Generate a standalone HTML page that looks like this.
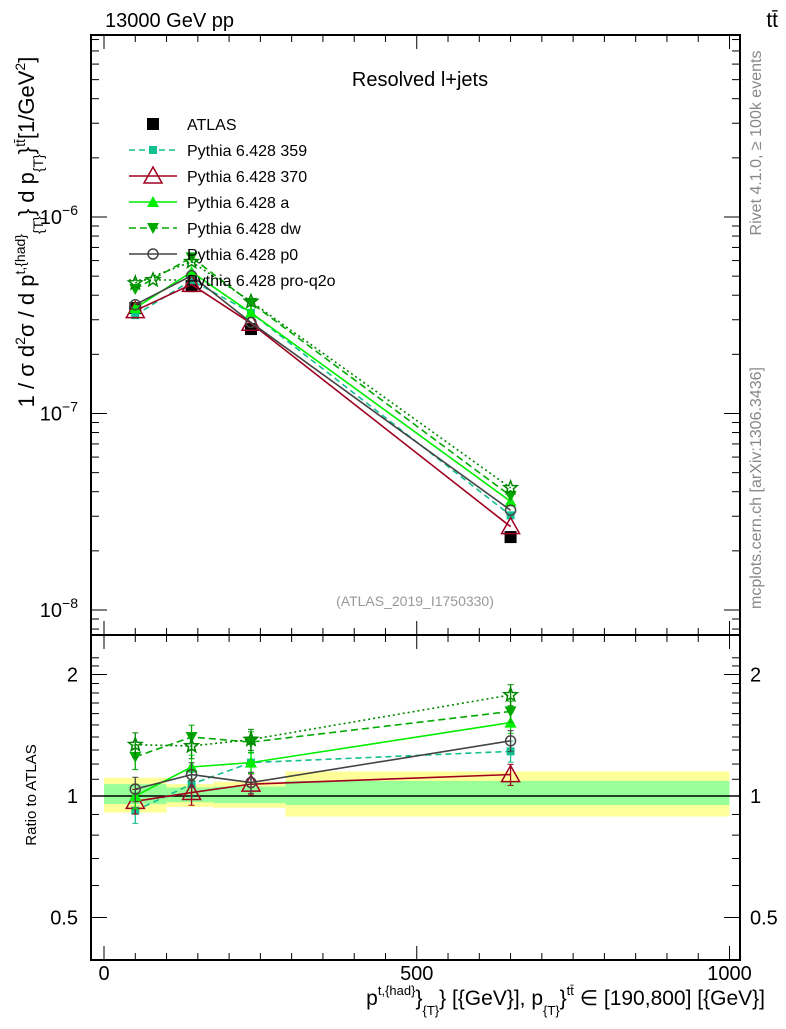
<!DOCTYPE html>
<html><head><meta charset="utf-8"><style>
body{margin:0;background:#fff}
svg text{font-family:"Liberation Sans",sans-serif}
</style></head><body>
<svg id="c" width="786" height="1024" xmlns="http://www.w3.org/2000/svg">
<text x="105" y="27" font-size="20">13000 GeV pp</text>
<text x="778" y="27" font-size="21" text-anchor="end">tt̄</text>
<text x="420" y="86" font-size="20" text-anchor="middle">Resolved l+jets</text>
<text x="415" y="606" font-size="14" fill="#999" text-anchor="middle">(ATLAS_2019_I1750330)</text>
<text transform="translate(761,143) rotate(-90)" font-size="16" fill="#888" text-anchor="middle">Rivet 4.1.0, ≥ 100k events</text>
<text transform="translate(761,488) rotate(-90)" font-size="16" fill="#888" text-anchor="middle">mcplots.cern.ch [arXiv:1306.3436]</text>
<text transform="translate(34,232) rotate(-90)" font-size="22" text-anchor="middle">1 / σ d<tspan dy="-9" font-size="14">2</tspan><tspan dy="9">σ / d p</tspan><tspan dy="-9" font-size="14">t,{had}</tspan><tspan dy="18" font-size="14">{T}</tspan><tspan dy="-9">} d p</tspan><tspan dy="9" font-size="14">{T}</tspan><tspan dy="-9">}</tspan><tspan dy="-9" font-size="14">tt̄</tspan><tspan dy="9">[1/GeV</tspan><tspan dy="-9" font-size="14">2</tspan><tspan dy="9">]</tspan></text>
<text transform="translate(36,795) rotate(-90)" font-size="15" text-anchor="middle">Ratio to ATLAS</text>
<text x="765" y="1005" font-size="21" text-anchor="end">p<tspan dy="-10" font-size="13">t,{had}</tspan><tspan dy="10">}</tspan><tspan dy="10" font-size="13">{T}</tspan><tspan dy="-10">} [{GeV}], p</tspan><tspan dy="10" font-size="13">{T}</tspan><tspan dy="-10">}</tspan><tspan dy="-10" font-size="13">tt̄</tspan><tspan dy="10"> ∈ [190,800] [{GeV}]</tspan></text>
<g id="g"></g>
</svg>
<script>
const xVals=[50,140,235,650];
const binEdges=[0,100,175,290,1000];
const atlas=[3.44e-7,4.45e-7,2.69e-7,2.35e-8];
const bandTotLo=[0.91,0.94,0.935,0.89];
const bandTotHi=[1.11,1.07,1.085,1.15];
const bandStatLo=[0.955,0.965,0.96,0.95];
const bandStatHi=[1.07,1.05,1.055,1.09];
const r359=[0.92,1.07,1.21,1.29];
const r370=[0.97,1.02,1.07,1.13];
const rA=[1.0,1.18,1.21,1.52];
const rDW=[1.25,1.40,1.36,1.62];
const rP0=[1.04,1.13,1.08,1.37];
const rQ2O=[1.34,1.33,1.38,1.78];
const rErr=[0.07,0.07,0.06,0.06];
const xTicks=[0,500,1000];
const yTicks=[1e-8,1e-7,1e-6];
const yTickLabels=["10","10","10"];
const yTickExp=["−8","−7","−6"];
const rTicks=[0.5,1,2];

const NS="http://www.w3.org/2000/svg";
const g=document.getElementById('g');
const L=91,R=740,T=35,M=635,B=960;
const X=v=>104+v*0.6255;
const Y=v=>217-(Math.log10(v)+6)*196.5;
const RY=v=>796-Math.log2(v)*121.5;
function el(tag,at,parent){const e=document.createElementNS(NS,tag);for(const k in at)e.setAttribute(k,at[k]);(parent||g).appendChild(e);return e;}

for(let i=0;i<4;i++){
 const b1=el('rect',{x:X(binEdges[i]),y:RY(bandTotHi[i]),width:X(binEdges[i+1])-X(binEdges[i]),height:RY(bandTotLo[i])-RY(bandTotHi[i]),fill:'#ffff99'});
 
 
 const b2=el('rect',{x:X(binEdges[i]),y:RY(bandStatHi[i]),width:X(binEdges[i+1])-X(binEdges[i]),height:RY(bandStatLo[i])-RY(bandStatHi[i]),fill:'#99ff99'});
 
 
}
el('line',{x1:L,x2:R,y1:RY(1),y2:RY(1),stroke:'#000','stroke-width':1.5});

const f1=el('rect',{x:L,y:T,width:R-L,height:M-T,fill:'none',stroke:'#000','stroke-width':2});


const f2=el('rect',{x:L,y:M,width:R-L,height:B-M,fill:'none',stroke:'#000','stroke-width':2});



for(let v=0;v<=1000;v+=50){const big=v%500==0;const s=big?14:7;
 el('line',{x1:X(v),x2:X(v),y1:B,y2:B-s,stroke:'#000'});
 el('line',{x1:X(v),x2:X(v),y1:M,y2:M-s,stroke:'#000'});
 el('line',{x1:X(v),x2:X(v),y1:M,y2:M+s,stroke:'#000'});
 el('line',{x1:X(v),x2:X(v),y1:T,y2:T+s,stroke:'#000'});}
xTicks.forEach(v=>{const t=el('text',{x:X(v),y:980,'font-size':20,'text-anchor':'middle'});t.textContent=v;
 
 });
for(let d=-9;d<=-5;d++)for(let m=1;m<10;m++){const v=m*Math.pow(10,d);const y=Y(v);if(y<T||y>M)continue;const s=m==1?16:8;
 el('line',{x1:L,x2:L+s,y1:y,y2:y,stroke:'#000'});el('line',{x1:R,x2:R-s,y1:y,y2:y,stroke:'#000'});}
yTicks.forEach((v,i)=>{const t=el('text',{x:78,y:Y(v)+7,'font-size':20,'text-anchor':'end'});t.textContent=yTickLabels[i];
 const s=el('tspan',{dy:-9,'font-size':14},t);s.textContent=yTickExp[i];
 
 });
for(let v=0.5;v<=2.3;v+=0.1){const y=RY(v);if(y<M||y>B)continue;const big=[0.5,1,2].some(q=>Math.abs(q-v)<1e-6);const s=big?16:8;
 el('line',{x1:L,x2:L+s,y1:y,y2:y,stroke:'#000'});el('line',{x1:R,x2:R-s,y1:y,y2:y,stroke:'#000'});}
rTicks.forEach(v=>{[78,750].forEach((xx,k)=>{const t=el('text',{x:xx,y:RY(v)+7,'font-size':20,'text-anchor':k?'start':'end'});t.textContent=v;
 
 });});

function marker(type,x,y,c,name){let e;
 if(type=='sq')e=el('rect',{x:x-4,y:y-4,width:8,height:8,fill:c});
 else if(type=='bsq')e=el('rect',{x:x-6,y:y-6,width:12,height:12,fill:c});
 else if(type=='otri')e=el('path',{d:`M${x},${y-9}L${x+9},${y+7}L${x-9},${y+7}Z`,fill:'#fff','fill-opacity':0,stroke:c,'stroke-width':1.5});
 else if(type=='tri')e=el('path',{d:`M${x},${y-6}L${x+6},${y+5}L${x-6},${y+5}Z`,fill:c});
 else if(type=='dtri')e=el('path',{d:`M${x},${y+6}L${x+6},${y-5}L${x-6},${y-5}Z`,fill:c});
 else if(type=='circ')e=el('circle',{cx:x,cy:y,r:5,fill:'none',stroke:c,'stroke-width':1.5});
 else {let d='';for(let i=0;i<10;i++){const a=-Math.PI/2+i*Math.PI/5,rr=i%2?3:7;d+=(i?'L':'M')+(x+rr*Math.cos(a)).toFixed(1)+','+(y+rr*Math.sin(a)).toFixed(1);}e=el('path',{d:d+'Z',fill:'none',stroke:c,'stroke-width':1.5});}
 
 
}
const series=[
 {r:r359,c:'#10c090',dash:'6,4',m:'sq',n:'Pythia 6.428 359',k:'p359'},
 {r:r370,c:'#a00020',dash:'',m:'otri',n:'Pythia 6.428 370',k:'p370'},
 {r:rA,c:'#00ee00',dash:'',m:'tri',n:'Pythia 6.428 a',k:'pa'},
 {r:rDW,c:'#00aa00',dash:'7,4',m:'dtri',n:'Pythia 6.428 dw',k:'pdw'},
 {r:rP0,c:'#444',dash:'',m:'circ',n:'Pythia 6.428 p0',k:'pp0'},
 {r:rQ2O,c:'#008800',dash:'2,3',m:'star',n:'Pythia 6.428 pro-q2o',k:'pq2o'}];
xVals.forEach((v,i)=>marker('bsq',X(v),Y(atlas[i]),'#000','atlas-point'));
series.forEach(s=>{
 const mp=xVals.map((v,i)=>[X(v),Y(atlas[i]*s.r[i])]);
 const rp=xVals.map((v,i)=>[X(v),RY(s.r[i])]);
 const l1=el('polyline',{points:mp.join(' '),fill:'none',stroke:s.c,'stroke-width':1.6,'stroke-dasharray':s.dash});
 
 
 const l2=el('polyline',{points:rp.join(' '),fill:'none',stroke:s.c,'stroke-width':1.6,'stroke-dasharray':s.dash});
 
 
 xVals.forEach((v,i)=>{const y1=RY(s.r[i]*(1+rErr[i])),y2=RY(s.r[i]*(1-rErr[i]));const x=X(v);
  el('line',{x1:x,x2:x,y1:y1,y2:y2,stroke:s.c,'stroke-width':1.3});
  el('line',{x1:x-3,x2:x+3,y1:y1,y2:y1,stroke:s.c});el('line',{x1:x-3,x2:x+3,y1:y2,y2:y2,stroke:s.c});
  marker(s.m,mp[i][0],mp[i][1],s.c,s.k+'-point');marker(s.m,rp[i][0],rp[i][1],s.c,s.k+'-ratio-point');});
});
const lg=el('g',{});


marker('bsq',153,124,'#000','legend-atlas-marker');
let t0=el('text',{x:187,y:130,'font-size':16},lg);t0.textContent='ATLAS';


series.forEach((s,i)=>{const y=150+i*26;
 el('line',{x1:129,x2:177,y1:y,y2:y,stroke:s.c,'stroke-width':1.6,'stroke-dasharray':s.dash});
 marker(s.m,153,y,s.c,'legend-'+s.k+'-marker');
 const t=el('text',{x:187,y:y+6,'font-size':16},lg);t.textContent=s.n;
 
 });
</script>
</body></html>
